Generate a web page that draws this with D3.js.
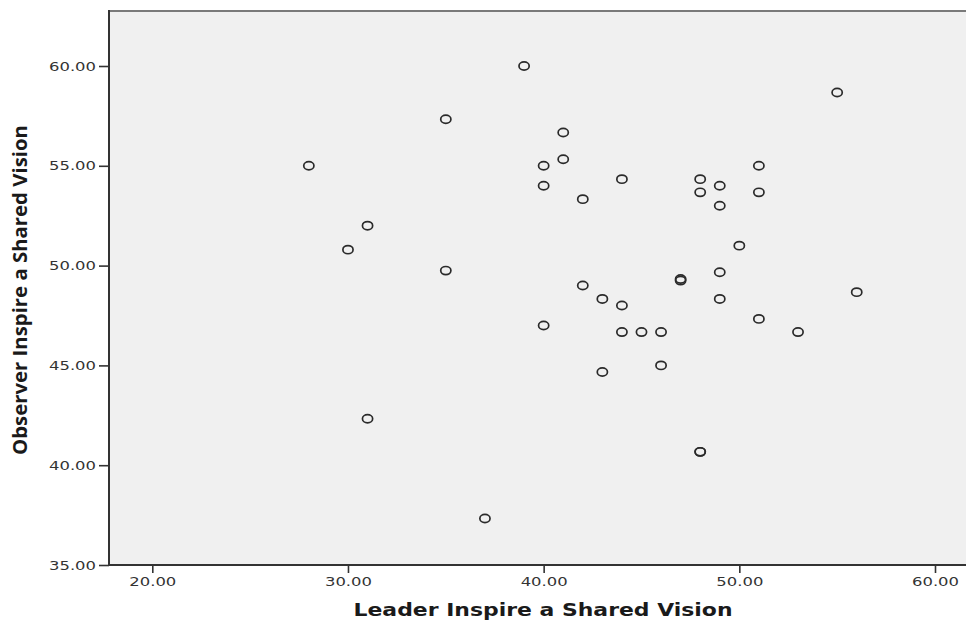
<!DOCTYPE html>
<html>
<head>
<meta charset="utf-8">
<script src="https://cdn.jsdelivr.net/npm/d3@7"></script>
<style>
  html, body { margin: 0; padding: 0; background: #fff; }
  svg { display: block; }
</style>
</head>
<body>
<svg id="chart" width="966" height="622"></svg>
<script>
// Leader vs. observer ratings of "Inspire a Shared Vision"
const leaderScores = [28, 30, 31, 31, 35, 35, 37, 39, 40, 40, 40, 41, 41, 42, 42, 43, 43, 44, 44, 44,
  45, 46, 46, 47, 47, 48, 48, 48, 48, 49, 49, 49, 49, 50, 51, 51, 51, 53, 55, 56];
const observerScores = [55, 50.8, 52, 42.33, 57.33, 49.75, 37.33, 60, 55, 54, 47, 56.67, 55.33, 53.33, 49, 48.33, 44.67, 54.33, 48, 46.67,
  46.67, 46.67, 45, 49.33, 49.25, 54.33, 53.67, 40.67, 40.67, 54, 53, 49.67, 48.33, 51, 55, 53.67, 47.33, 46.67, 58.67, 48.67];
const xTicks = [20, 30, 40, 50, 60];
const yTicks = [35, 40, 45, 50, 55, 60];
const xTitle = "Leader Inspire a Shared Vision";
const yTitle = "Observer Inspire a Shared Vision";

const points = leaderScores.map((x, i) => ({ x, y: observerScores[i] }));

const svg = d3.select("#chart");
const plot = { left: 109, top: 11, right: 980, bottom: 565 };

const x = d3.scaleLinear().domain([20, 60]).range([152.3, 935]);
const y = d3.scaleLinear().domain([35, 60]).range([565, 66]);

// plot background
svg.append("rect")
  .attr("x", plot.left).attr("y", plot.top)
  .attr("width", plot.right - plot.left).attr("height", plot.bottom - plot.top)
  .attr("fill", "#f0f0f0");

// frame: top edge
svg.append("line")
  .attr("x1", plot.left).attr("x2", plot.right)
  .attr("y1", plot.top).attr("y2", plot.top)
  .attr("stroke", "#7a7a7a").attr("stroke-width", 2);

const tickFont = "'DejaVu Sans', Verdana, sans-serif";

// x axis
const xAxis = svg.append("g")
  .attr("transform", `translate(0,${plot.bottom})`)
  .call(d3.axisBottom(x).tickValues(xTicks).tickFormat(d3.format(".2f")).tickSize(8).tickSizeOuter(0).tickPadding(4));
xAxis.select(".domain").remove();
xAxis.selectAll(".tick line").attr("stroke", "#333").attr("stroke-width", 1.6);
xAxis.selectAll(".tick text")
  .attr("fill", "#333").attr("font-family", tickFont).attr("font-size", 13)
  .attr("textLength", 47).attr("lengthAdjust", "spacingAndGlyphs");

// y axis
const yAxis = svg.append("g")
  .attr("transform", `translate(${plot.left},0)`)
  .call(d3.axisLeft(y).tickValues(yTicks).tickFormat(d3.format(".2f")).tickSize(10).tickSizeOuter(0).tickPadding(3));
yAxis.select(".domain").remove();
yAxis.selectAll(".tick line").attr("stroke", "#333").attr("stroke-width", 1.6);
yAxis.selectAll(".tick text")
  .attr("fill", "#333").attr("font-family", tickFont).attr("font-size", 13)
  .attr("textLength", 47).attr("lengthAdjust", "spacingAndGlyphs");

// left and bottom axis lines
svg.append("line")
  .attr("x1", plot.left).attr("x2", plot.left)
  .attr("y1", plot.top - 1).attr("y2", plot.bottom + 1)
  .attr("stroke", "#333").attr("stroke-width", 2);
svg.append("line")
  .attr("x1", plot.left - 1).attr("x2", plot.right)
  .attr("y1", plot.bottom).attr("y2", plot.bottom)
  .attr("stroke", "#333").attr("stroke-width", 2);

// markers
svg.append("g").selectAll("ellipse")
  .data(points)
  .join("ellipse")
  .attr("cx", d => x(d.x))
  .attr("cy", d => y(d.y))
  .attr("rx", 5.1).attr("ry", 4.1)
  .attr("fill", "none")
  .attr("stroke", "#2a2a2a")
  .attr("stroke-width", 1.7);

// axis titles
svg.append("text")
  .attr("x", 543).attr("y", 616)
  .attr("text-anchor", "middle")
  .attr("font-family", tickFont).attr("font-weight", "bold").attr("font-size", 18)
  .attr("fill", "#1a1a1a")
  .attr("textLength", 379).attr("lengthAdjust", "spacingAndGlyphs")
  .text(xTitle);

svg.append("text")
  .attr("transform", "translate(27,290) rotate(-90)")
  .attr("text-anchor", "middle")
  .attr("font-family", "'Open Sans', sans-serif").attr("font-weight", "bold").attr("font-size", 19)
  .attr("fill", "#1a1a1a")
  .attr("textLength", 330).attr("lengthAdjust", "spacingAndGlyphs")
  .text(yTitle);
</script>
</body>
</html>
